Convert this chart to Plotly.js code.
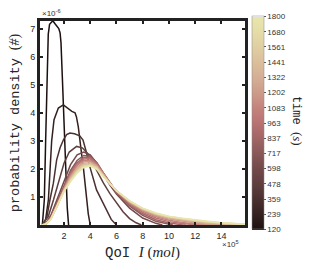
<!DOCTYPE html>
<html><head><meta charset="utf-8">
<script src="https://cdn.plot.ly/plotly-3.0.1.min.js"></script>
<style>html,body{margin:0;padding:0;background:#fff}#chart{width:309px;height:261px}</style>
</head><body><div id="chart"></div>
<script>
// time of each curve (s)
const times = [120,240,360,480,600,720,840,960,1080,1200,1320,1440,1560,1680,1800];
const cbTickVals = [120,240,360,480,600,720,840,960,1080,1200,1320,1440,1560,1680,1800];
const cbTickText = ['120','239','359','478','598','717','837','963','1083','1202','1322','1441','1561','1680','1800'];
const xTickVals = [2,4,6,8,10,12,14];
const yTickVals = [1,2,3,4,5,6,7];

// QoI (x 1e5 mol) and probability density (x 1e-6)
const x120 = [0.35,0.5,0.6,0.7,0.8,0.9,1.0,1.15,1.3,1.45,1.6,1.7,1.77,1.87,1.95,2.05,2.15,2.25,2.35];
const y120 = [0,0.9,3.0,5.2,6.8,7.15,7.22,7.28,7.18,7.08,7.0,6.85,6.5,5.3,4.2,3.0,1.8,0.6,0];
const x240 = [0.4,0.6,0.81,0.94,1.06,1.24,1.57,1.95,2.3,2.6,2.84,2.95,3.09,3.2,3.35,3.47,3.6,3.72,3.85,4.0];
const y240 = [0,0.2,0.9,2.1,3.0,3.75,4.17,4.28,4.15,4.05,4.0,3.85,3.5,3.0,2.5,2.08,1.5,0.9,0.4,0];
const x360 = [0.4,0.7,0.93,1.19,1.44,1.7,1.95,2.2,2.45,2.8,3.2,3.45,3.7,3.97,4.48,4.9,5.25,5.6,6.0];
const y360 = [0,0.3,0.9,1.49,2.32,2.75,3.03,3.22,3.28,3.25,3.18,3.03,2.6,2.08,1.25,0.85,0.54,0.2,0];
const x480 = [0.3,0.8,1.2,1.6,2.0,2.4,2.96,3.4,3.8,4.2,4.6,5.0,5.5,6.0,6.5,7.0,7.5,7.9];
const y480 = [0,0.3,0.9,1.6,2.2,2.6,2.8,2.75,2.55,2.2,1.85,1.5,1.12,0.78,0.47,0.23,0.08,0];
const x600 = [0.3,0.6,1.0,1.5,2.0,2.5,3.0,3.5,4.0,4.5,5.0,5.5,6.0,7.0,8.0,9.0,9.5];
const y600 = [0,0.05,0.35,0.95,1.6,2.15,2.5,2.6,2.5,2.2,1.8,1.42,1.1,0.6,0.25,0.06,0];
const x720 = [0.3,0.6,1.0,1.5,2.0,2.5,3.0,3.5,4.0,4.5,5.0,5.5,6.0,7.0,8.0,9.0,10.0,10.3];
const y720 = [0,0.04,0.3,0.85,1.45,1.95,2.3,2.48,2.45,2.22,1.85,1.48,1.15,0.68,0.34,0.13,0.02,0];
const x840 = [0.3,0.6,1.0,1.5,2.0,2.5,3.0,3.5,4.0,4.5,5.0,5.5,6.0,7.0,8.0,9.0,10.0,11.0,11.3];
const y840 = [0,0.04,0.27,0.8,1.38,1.88,2.22,2.4,2.42,2.22,1.86,1.5,1.17,0.72,0.4,0.19,0.07,0.01,0];
const x960 = [0.3,0.6,1.0,1.5,2.0,2.5,3.0,3.5,4.0,4.5,5.0,5.5,6.0,7.0,8.0,9.0,10.0,11.0,12.0,12.3];
const y960 = [0,0.04,0.25,0.76,1.33,1.82,2.17,2.35,2.37,2.18,1.85,1.5,1.19,0.76,0.45,0.25,0.12,0.05,0.01,0];
const x1080 = [0.3,0.6,1.0,1.5,2.0,2.5,3.0,3.5,4.0,4.5,5.0,5.5,6.0,7.0,8.0,9.0,10.0,11.0,12.0,13.0,13.3];
const y1080 = [0,0.03,0.24,0.73,1.3,1.77,2.12,2.3,2.32,2.15,1.83,1.49,1.2,0.79,0.5,0.3,0.17,0.09,0.04,0.01,0];
const x1200 = [0.3,0.6,1.0,1.5,2.0,2.5,3.0,3.5,4.0,4.5,5.0,5.5,6.0,7.0,8.0,9.0,10.0,11.0,12.0,13.0,14.0,14.3];
const y1200 = [0,0.03,0.23,0.71,1.27,1.72,2.06,2.25,2.27,2.12,1.81,1.48,1.21,0.81,0.53,0.34,0.21,0.13,0.07,0.03,0.01,0];
const x1320 = [0.3,0.6,1.0,1.5,2.0,2.5,3.0,3.5,4.0,4.5,5.0,5.5,6.0,7.0,8.0,9.0,10.0,11.0,12.0,13.0,14.0,15.0,15.8];
const y1320 = [0,0.03,0.22,0.7,1.25,1.68,2.01,2.2,2.22,2.09,1.78,1.47,1.21,0.83,0.55,0.37,0.25,0.17,0.11,0.06,0.03,0.01,0];
const x1440 = [0.3,0.6,1.0,1.5,2.0,2.5,3.0,3.5,4.0,4.5,5.0,5.5,6.0,7.0,8.0,9.0,10.0,11.0,12.0,13.0,14.0,15.0,15.8];
const y1440 = [0,0.03,0.21,0.69,1.23,1.64,1.96,2.15,2.18,2.06,1.77,1.46,1.22,0.84,0.57,0.39,0.27,0.2,0.14,0.09,0.05,0.02,0.01];
const x1560 = [0.3,0.6,1.0,1.5,2.0,2.5,3.0,3.5,4.0,4.5,5.0,5.5,6.0,7.0,8.0,9.0,10.0,11.0,12.0,13.0,14.0,15.0,15.8];
const y1560 = [0,0.03,0.21,0.69,1.21,1.6,1.92,2.11,2.15,2.04,1.75,1.46,1.22,0.85,0.58,0.41,0.29,0.22,0.16,0.11,0.07,0.04,0.02];
const x1680 = [0.3,0.6,1.0,1.5,2.0,2.5,3.0,3.5,4.0,4.5,5.0,5.5,6.0,7.0,8.0,9.0,10.0,11.0,12.0,13.0,14.0,15.0,15.8];
const y1680 = [0,0.03,0.2,0.69,1.2,1.57,1.88,2.08,2.12,2.01,1.74,1.45,1.22,0.86,0.59,0.42,0.3,0.23,0.17,0.12,0.08,0.05,0.03];
const x1800 = [0.3,0.6,1.0,1.5,2.0,2.5,3.0,3.5,4.0,4.5,5.0,5.5,6.0,7.0,8.0,9.0,10.0,11.0,12.0,13.0,14.0,15.0,15.8];
const y1800 = [0,0.03,0.2,0.7,1.2,1.55,1.85,2.05,2.1,1.98,1.72,1.45,1.22,0.86,0.6,0.43,0.31,0.24,0.18,0.13,0.08,0.05,0.03];

const curvesX = [x120,x240,x360,x480,x600,x720,x840,x960,x1080,x1200,x1320,x1440,x1560,x1680,x1800];
const curvesY = [y120,y240,y360,y480,y600,y720,y840,y960,y1080,y1200,y1320,y1440,y1560,y1680,y1800];

const cscale = [
  [0,'#1c1010'],[0.07,'#33201f'],[0.14,'#4a2f2f'],[0.21,'#5e3d3d'],[0.29,'#744a4a'],
  [0.36,'#8a5858'],[0.43,'#a26565'],[0.5,'#b87272'],[0.57,'#c4827c'],[0.64,'#cc9a88'],
  [0.71,'#d4ad94'],[0.79,'#dbbf9c'],[0.86,'#e0cfa2'],[0.93,'#e5dca8'],[1,'#e8e6ac']];
const tMin = 120, tMax = 1800;

function hex2rgb(h){return [parseInt(h.slice(1,3),16),parseInt(h.slice(3,5),16),parseInt(h.slice(5,7),16)];}
function colorAt(t){
  const f=(t-tMin)/(tMax-tMin);
  for(let i=1;i<cscale.length;i++){
    if(f<=cscale[i][0]){
      const a=cscale[i-1],b=cscale[i];const u=(f-a[0])/(b[0]-a[0]);
      const ca=hex2rgb(a[1]),cb=hex2rgb(b[1]);
      return 'rgb('+ca.map((v,k)=>Math.round(v+(cb[k]-v)*u)).join(',')+')';
    }
  }
  return cscale[cscale.length-1][1];
}

const traces = times.map((t,i)=>({
  type:'scatter',mode:'lines',x:curvesX[i],y:curvesY[i],
  line:{color:colorAt(t),width:1.5},hoverinfo:'skip',showlegend:false
}));
traces.push({
  type:'scatter',mode:'markers',x:[null,null],y:[null,null],showlegend:false,hoverinfo:'skip',
  marker:{color:[tMin,tMax],cmin:tMin,cmax:tMax,colorscale:cscale,showscale:true,
    colorbar:{x:1.035,xanchor:'left',xpad:0,ypad:0,y:0.5,yanchor:'middle',len:1.045,thickness:12,
      outlinewidth:0.5,outlinecolor:'#888',tickvals:cbTickVals,ticktext:cbTickText,
      ticks:'outside',ticklen:2,tickcolor:'#555',tickfont:{family:'Liberation Sans, Arial',size:8,color:'#333'}}}
});

const mono = 'Liberation Mono, Courier New, monospace';
const serif = 'Liberation Serif, Times New Roman, serif';
const tickFont = {family:'Liberation Sans, Arial',size:9,color:'#262626'};
const layout = {
  width:309,height:261,margin:{l:40,r:64,t:21,b:36},
  paper_bgcolor:'#fff',plot_bgcolor:'#fff',
  xaxis:{range:[0.17,15.8],tickvals:xTickVals,ticks:'inside',ticklen:3,tickwidth:2,tickcolor:'#222',
    showline:true,linewidth:3,linecolor:'#222',mirror:'ticks',showgrid:false,zeroline:false,
    tickfont:tickFont,
    title:{text:'QoI <span style="font-family:'+serif+';font-size:15px"><i>I</i> (<i>mol</i>)</span>',
      font:{family:mono,size:14,color:'#262626'},standoff:9}},
  yaxis:{range:[0,7.27],tickvals:yTickVals,ticks:'inside',ticklen:3,tickwidth:2,tickcolor:'#222',
    showline:true,linewidth:3,linecolor:'#222',mirror:'ticks',showgrid:false,zeroline:false,
    tickfont:tickFont,
    title:{text:'probability density <span style="font-family:'+serif+';font-size:14px">(<i>#</i>)</span>',
      font:{family:mono,size:13.5,color:'#262626'},standoff:8}},
  annotations:[
    {xref:'paper',yref:'paper',x:0,y:1.0,xanchor:'left',yanchor:'bottom',showarrow:false,
      text:'×10<sup>-6</sup>',font:{family:'Liberation Sans, Arial',size:8,color:'#333'},yshift:1},
    {xref:'paper',yref:'paper',x:0.88,y:0,xanchor:'left',yanchor:'top',showarrow:false,yshift:-12,
      text:'×10<sup>5</sup>',font:{family:'Liberation Sans, Arial',size:8,color:'#333'}},
    {xref:'paper',yref:'paper',x:1.254,y:0.51,xanchor:'center',yanchor:'middle',showarrow:false,textangle:90,
      text:'time <span style="font-family:'+serif+';font-size:13px">(<i>s</i>)</span>',
      font:{family:mono,size:12,color:'#262626'}}
  ]
};
Plotly.newPlot('chart',traces,layout,{displayModeBar:false,staticPlot:true});
</script></body></html>
